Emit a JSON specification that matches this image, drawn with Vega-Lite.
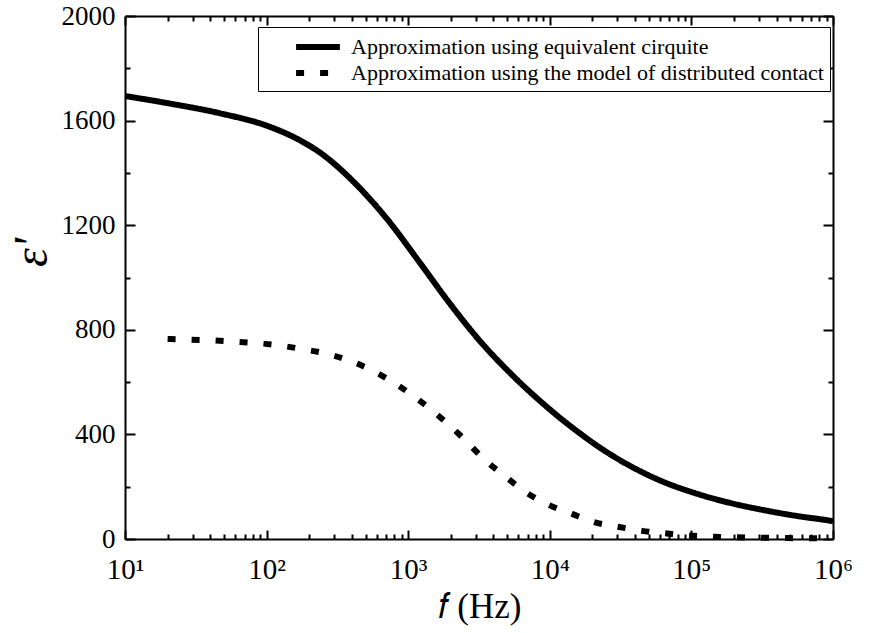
{
  "$schema": "https://vega.github.io/schema/vega-lite/v6.json",
  "width": 708,
  "height": 523,
  "autosize": "none",
  "padding": {"left": 125, "top": 16, "right": 41, "bottom": 94},
  "background": "white",
  "config": {
    "font": "Liberation Serif",
    "view": {"stroke": null},
    "axis": {
      "grid": false,
      "domainColor": "black",
      "domainWidth": 2,
      "tickColor": "black",
      "tickWidth": 2,
      "labelColor": "black",
      "labelFont": "Liberation Serif",
      "titleColor": "black",
      "titleFont": "Liberation Serif",
      "titleFontWeight": "normal",
      "labelOverlap": false,
      "labelFlush": false,
      "labelBound": false
    },
    "legend": {"labelFont": "Liberation Serif"}
  },
  "datasets": {
    "curves": [
      {"f": 10, "eps": 1694, "series": "Approximation using equivalent cirquite"},
      {"f": 20.8, "eps": 1665, "series": "Approximation using equivalent cirquite"},
      {"f": 46.9, "eps": 1628, "series": "Approximation using equivalent cirquite"},
      {"f": 105.7, "eps": 1576, "series": "Approximation using equivalent cirquite"},
      {"f": 158, "eps": 1535, "series": "Approximation using equivalent cirquite"},
      {"f": 238, "eps": 1478, "series": "Approximation using equivalent cirquite"},
      {"f": 408, "eps": 1368, "series": "Approximation using equivalent cirquite"},
      {"f": 708, "eps": 1224, "series": "Approximation using equivalent cirquite"},
      {"f": 1211, "eps": 1056, "series": "Approximation using equivalent cirquite"},
      {"f": 1878, "eps": 915, "series": "Approximation using equivalent cirquite"},
      {"f": 3214, "eps": 757, "series": "Approximation using equivalent cirquite"},
      {"f": 5495, "eps": 624, "series": "Approximation using equivalent cirquite"},
      {"f": 9550, "eps": 505, "series": "Approximation using equivalent cirquite"},
      {"f": 12390, "eps": 454, "series": "Approximation using equivalent cirquite"},
      {"f": 16330, "eps": 404, "series": "Approximation using equivalent cirquite"},
      {"f": 21530, "eps": 357, "series": "Approximation using equivalent cirquite"},
      {"f": 36800, "eps": 280, "series": "Approximation using equivalent cirquite"},
      {"f": 63100, "eps": 219, "series": "Approximation using equivalent cirquite"},
      {"f": 109600, "eps": 173, "series": "Approximation using equivalent cirquite"},
      {"f": 187500, "eps": 138, "series": "Approximation using equivalent cirquite"},
      {"f": 320600, "eps": 111, "series": "Approximation using equivalent cirquite"},
      {"f": 557000, "eps": 88, "series": "Approximation using equivalent cirquite"},
      {"f": 952000, "eps": 70, "series": "Approximation using equivalent cirquite"},
      {"f": 1000000, "eps": 68, "series": "Approximation using equivalent cirquite"},
      {"f": 20, "eps": 765, "series": "Approximation using the model of distributed contact"},
      {"f": 50, "eps": 757, "series": "Approximation using the model of distributed contact"},
      {"f": 116, "eps": 742, "series": "Approximation using the model of distributed contact"},
      {"f": 175, "eps": 727, "series": "Approximation using the model of distributed contact"},
      {"f": 272, "eps": 707, "series": "Approximation using the model of distributed contact"},
      {"f": 407, "eps": 677, "series": "Approximation using the model of distributed contact"},
      {"f": 583, "eps": 639, "series": "Approximation using the model of distributed contact"},
      {"f": 861, "eps": 585, "series": "Approximation using the model of distributed contact"},
      {"f": 1211, "eps": 528, "series": "Approximation using the model of distributed contact"},
      {"f": 1706, "eps": 463, "series": "Approximation using the model of distributed contact"},
      {"f": 2399, "eps": 390, "series": "Approximation using the model of distributed contact"},
      {"f": 3428, "eps": 306, "series": "Approximation using the model of distributed contact"},
      {"f": 4900, "eps": 237, "series": "Approximation using the model of distributed contact"},
      {"f": 6900, "eps": 176, "series": "Approximation using the model of distributed contact"},
      {"f": 9860, "eps": 130, "series": "Approximation using the model of distributed contact"},
      {"f": 14350, "eps": 96, "series": "Approximation using the model of distributed contact"},
      {"f": 20500, "eps": 65, "series": "Approximation using the model of distributed contact"},
      {"f": 30800, "eps": 46, "series": "Approximation using the model of distributed contact"},
      {"f": 44800, "eps": 31, "series": "Approximation using the model of distributed contact"},
      {"f": 67300, "eps": 21, "series": "Approximation using the model of distributed contact"},
      {"f": 102600, "eps": 12, "series": "Approximation using the model of distributed contact"},
      {"f": 158000, "eps": 8, "series": "Approximation using the model of distributed contact"},
      {"f": 300000, "eps": 5, "series": "Approximation using the model of distributed contact"},
      {"f": 600000, "eps": 3, "series": "Approximation using the model of distributed contact"},
      {"f": 1000000, "eps": 2, "series": "Approximation using the model of distributed contact"}
    ]
  },
  "data": {"name": "curves"},
  "layer": [
    {
      "transform": [{"filter": "datum.series === 'Approximation using equivalent cirquite'"}],
      "mark": {"type": "line", "color": "black", "strokeWidth": 6, "interpolate": "monotone", "strokeCap": "butt"},
      "encoding": {
        "x": {
          "field": "f", "type": "quantitative",
          "scale": {"type": "log", "domain": [10, 1000000], "nice": false},
          "axis": {
            "orient": "bottom",
            "title": "𝑓 (Hz)",
            "titleFont": "Liberation Serif",
            "titleFontSize": 35,
            "titleFontStyle": "normal",
            "titlePadding": 1,
            "values": [10,20,30,40,50,60,70,80,90,100,200,300,400,500,600,700,800,900,1000,2000,3000,4000,5000,6000,7000,8000,9000,10000,20000,30000,40000,50000,60000,70000,80000,90000,100000,200000,300000,400000,500000,600000,700000,800000,900000,1000000],
            "labelExpr": "datum.value==10?'10¹':datum.value==100?'10²':datum.value==1000?'10³':datum.value==10000?'10⁴':datum.value==100000?'10⁵':datum.value==1000000?'10⁶':''",
            "labelFont": "Liberation Serif",
            "labelFontSize": 29,
            "labelPadding": 25,
            "tickSize": {"condition": {"test": "indexof([10,100,1000,10000,100000,1000000], datum.value) >= 0", "value": -9}, "value": -5}
          }
        },
        "y": {
          "field": "eps", "type": "quantitative",
          "scale": {"domain": [0, 2000], "nice": false},
          "axis": {
            "orient": "left",
            "title": "ε'",
            "titleFont": "Liberation Serif",
            "titleFontSize": 48,
            "titleFontStyle": "italic",
            "titlePadding": 5,
            "titleY": 236,
            "format": "d",
            "values": [0,200,400,600,800,1000,1200,1400,1600,1800,2000],
            "labelExpr": "datum.value % 400 === 0 ? datum.label : ''",
            "labelFont": "Liberation Serif",
            "labelFontSize": 27,
            "labelPadding": 20,
            "tickSize": {"condition": {"test": "datum.value % 400 === 0", "value": -10}, "value": -5}
          }
        },
        "strokeDash": {
          "field": "series", "type": "nominal",
          "scale": {
            "domain": ["Approximation using equivalent cirquite", "Approximation using the model of distributed contact"],
            "range": [[1, 0], [8, 16]]
          },
          "legend": {
            "orient": "none",
            "legendX": 133,
            "legendY": 11,
            "title": null,
            "strokeColor": "black",
            "fillColor": "white",
            "padding": 6,
            "symbolType": "M-2,0H2",
            "symbolStrokeColor": "black",
            "symbolStrokeWidth": 6,
            "symbolSize": 480,
            "symbolOffset": 40,
            "labelFont": "Liberation Serif",
            "labelFontSize": 22,
            "labelColor": "black",
            "labelLimit": 1000,
            "labelOffset": 19,
            "rowPadding": -3
          }
        }
      }
    },
    {
      "transform": [{"filter": "datum.series === 'Approximation using the model of distributed contact'"}],
      "mark": {"type": "line", "color": "black", "strokeWidth": 6, "interpolate": "monotone", "strokeCap": "butt"},
      "encoding": {
        "x": {
          "field": "f", "type": "quantitative",
          "axis": {
            "orient": "top",
            "title": null,
            "labels": false,
            "values": [10,20,30,40,50,60,70,80,90,100,200,300,400,500,600,700,800,900,1000,2000,3000,4000,5000,6000,7000,8000,9000,10000,20000,30000,40000,50000,60000,70000,80000,90000,100000,200000,300000,400000,500000,600000,700000,800000,900000,1000000],
            "tickSize": {"condition": {"test": "indexof([10,100,1000,10000,100000,1000000], datum.value) >= 0", "value": -9}, "value": -5}
          }
        },
        "y": {
          "field": "eps", "type": "quantitative",
          "axis": {
            "orient": "right",
            "title": null,
            "labels": false,
            "values": [0,200,400,600,800,1000,1200,1400,1600,1800,2000],
            "tickSize": {"condition": {"test": "datum.value % 400 === 0", "value": -10}, "value": -5}
          }
        },
        "strokeDash": {"field": "series", "type": "nominal"}
      }
    }
  ],
  "resolve": {"axis": {"x": "independent", "y": "independent"}}
}
